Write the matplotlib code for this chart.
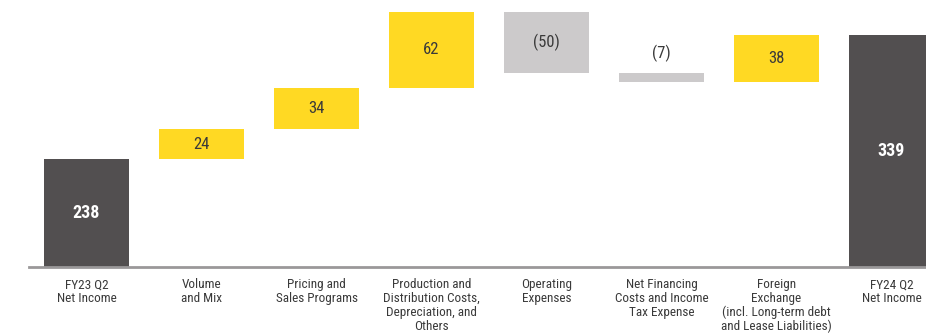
import numpy as np
import matplotlib
matplotlib.use("Agg")
import matplotlib.pyplot as plt

plt.rcParams['font.family'] = ['Roboto Condensed', 'PT Sans Narrow', 'Liberation Sans', 'DejaVu Sans']

# Net income bridge, FY23 Q2 -> FY24 Q2
categories = [
    "FY23 Q2\nNet Income",
    "Volume\nand Mix",
    "Pricing and\nSales Programs",
    "Production and\nDistribution Costs,\nDepreciation, and\nOthers",
    "Operating\nExpenses",
    "Net Financing\nCosts and Income\nTax Expense",
    "Foreign\nExchange\n(incl. Long-term debt\nand Lease Liabilities)",
    "FY24 Q2\nNet Income",
]
start_value = 238
changes = [24, 34, 62, -50, -7, 38]
end_value = 339

dark = "#524f50"
yellow = "#ffd923"
grey = "#cccacb"
text_dark = "#3a3a3a"

# the value axis is cut, it starts at 150
y_floor = 150

# bottoms and heights for the floating bars
levels = np.concatenate([[start_value], start_value + np.cumsum(changes)])
bottoms = [0]
heights = [start_value]
colors = [dark]
for i, c in enumerate(changes):
    bottoms.append(min(levels[i], levels[i + 1]))
    heights.append(abs(c))
    colors.append(yellow if c > 0 else grey)
bottoms.append(0)
heights.append(end_value)
colors.append(dark)

x = np.arange(len(categories))

fig = plt.figure(figsize=(9.26, 3.35), dpi=100)
ax = fig.add_axes([29 / 926, 68 / 335, 1 - 29 / 926, 267 / 335])

ax.bar(x, heights, bottom=bottoms, width=0.74, color=colors, zorder=2)

# value labels
values = [start_value] + changes + [end_value]
for i, v in enumerate(values):
    if i in (0, len(values) - 1):
        mid = (y_floor + heights[i]) / 2
        ax.text(x[i], mid, f"{v}", ha="center", va="center",
                color="white", fontsize=13, fontweight="bold")
    else:
        txt = f"{v}" if v > 0 else f"({abs(v)})"
        mid = bottoms[i] + heights[i] / 2
        if heights[i] < 15:
            ax.text(x[i], bottoms[i] + heights[i] + 16, txt, ha="center",
                    va="center", color=text_dark, fontsize=12)
        else:
            ax.text(x[i], mid, txt, ha="center", va="center",
                    color=text_dark, fontsize=12)

ax.set_xlim(-0.5, 7.3)
ax.set_ylim(y_floor, y_floor + 267 / 1.228)

ax.axhline(y_floor, color="#9a9899", linewidth=2, zorder=3, clip_on=False)

ax.set_xticks(x)
ax.set_xticklabels(categories, fontsize=9.5, color=text_dark, linespacing=1.08)
ax.tick_params(axis="x", length=0, pad=8)
ax.set_yticks([])
for s in ax.spines.values():
    s.set_visible(False)

fig.savefig("out.png", dpi=100)
